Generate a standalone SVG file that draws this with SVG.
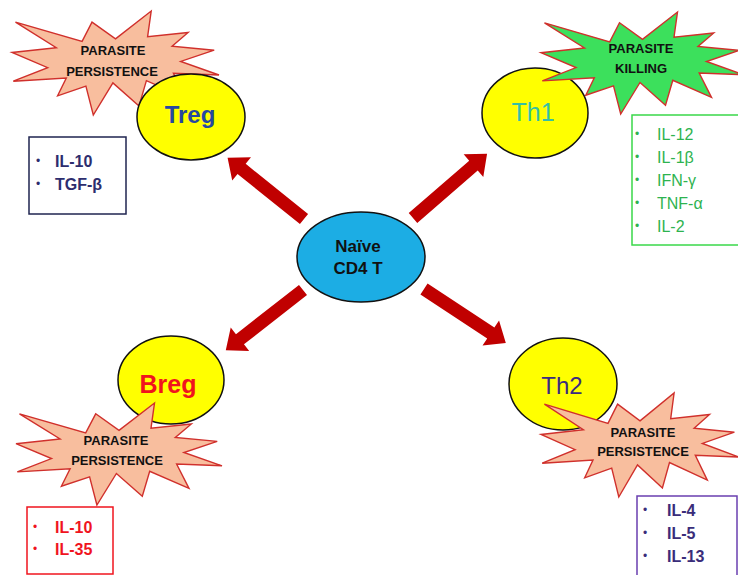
<svg xmlns="http://www.w3.org/2000/svg" xmlns:xlink="http://www.w3.org/1999/xlink" width="738" height="575" viewBox="0 0 738 575">
  <style>
    .star { stroke: #D0302C; stroke-width: 1.4; stroke-linejoin: miter; }
    .peach { fill: #F8BE9E; }
    .green { fill: #3CE05C; }
    .cell { fill: #FFFF00; stroke: #111; stroke-width: 1.5; }
    .st { font-family: "Liberation Sans", Arial, sans-serif; font-weight: bold; font-size: 13px; fill: #111; text-anchor: middle; }
    .lbl { font-family: "Liberation Sans", Arial, sans-serif; text-anchor: middle; }
    .it { font-family: "Liberation Sans", Arial, sans-serif; font-size: 16px; }
    .bul { font-family: "Liberation Sans", Arial, sans-serif; font-size: 12px; }
    .box { fill: #FFFFFF; stroke-width: 1.5; }
    .arrow { fill: #C00000; }
  </style>
  <defs>
    <path id="arr" d="M0 -6.5 L80 -6.5 L80 -15 L98 0 L80 15 L80 6.5 L0 6.5 Z"/>
  </defs>
  <rect width="738" height="575" fill="#FFFFFF"/>

  <g id="connectors">
    <use xlink:href="#arr" class="arrow" transform="translate(304,219) rotate(-141.25)"/>
    <use xlink:href="#arr" class="arrow" transform="translate(413,218) rotate(-40.9)"/>
    <use xlink:href="#arr" class="arrow" transform="translate(303,290) rotate(142)"/>
    <use xlink:href="#arr" class="arrow" transform="translate(424,289) rotate(33.4)"/>
  </g>

  <g id="naive">
    <ellipse cx="361" cy="257" rx="64" ry="45" fill="#1CADE4" stroke="#111" stroke-width="1.5"/>
    <text class="lbl" x="358" y="252" font-size="17" font-weight="bold" fill="#111">Naïve</text>
    <text class="lbl" x="358" y="274" font-size="17" font-weight="bold" fill="#111">CD4 T</text>
  </g>

  <g id="treg">
    <g id="treg-burst">
      <polygon class="star peach" points="115.5,38.9 151.2,11 147.6,36.6 188.1,32.5 172.1,46.2 214.2,50.2 180.7,61.4 219,75 173.4,73.3 185.9,98.1 146.4,80.6 139,106 112.9,82.9 93.3,115 85.9,86.2 57.6,95.8 66.3,78.1 13.3,81.2 47.7,67.7 12,52.5 56.3,47.7 15.5,22.1 82.1,41.4 92,22.1"/>
      <text class="st" x="113" y="55">PARASITE</text>
      <text class="st" x="112" y="76">PERSISTENCE</text>
    </g>
    <ellipse class="cell" cx="191" cy="117" rx="54" ry="43"/>
    <text class="lbl" x="190" y="123" font-size="24" font-weight="bold" fill="#2748A0">Treg</text>
  </g>
  <g id="treg-cytokines">
    <rect class="box" x="29" y="137" width="97" height="77" stroke="#1F2550"/>
    <text class="bul" x="36" y="165" fill="#2D2D6E">•</text>
    <text class="bul" x="36" y="188" fill="#2D2D6E">•</text>
    <text class="it" x="55" y="167" font-weight="bold" font-size="15" fill="#2D2D6E">IL-10</text>
    <text class="it" x="55" y="190" font-weight="bold" font-size="15" fill="#2D2D6E">TGF-β</text>
  </g>

  <g id="th1">
    <ellipse class="cell" cx="535" cy="113" rx="53" ry="45"/>
    <text class="lbl" x="533" y="121" font-size="25" fill="#33BFA6">Th1</text>
    <g id="th1-burst">
      <polygon class="star green" points="642.5,39.4 677.5,12 674,37.1 713.7,33 698,46.5 739.3,50.4 706.5,61.5 744,74.8 699.2,73.1 711.5,97.4 672.8,80.3 665.5,105.2 640,82.5 620.7,114 613.5,85.8 585.8,95.2 594.3,77.8 542.3,80.9 576,67.6 541,52.7 584.5,48 544.5,22.8 609.7,41.8 619.5,22.8"/>
      <text class="st" x="641" y="53">PARASITE</text>
      <text class="st" x="641" y="73">KILLING</text>
    </g>
  </g>
  <g id="th1-cytokines">
    <rect class="box" x="632" y="115" width="110" height="130" stroke="#3AD84A"/>
    <text class="bul" x="635" y="138" fill="#2EB34F">•</text>
    <text class="bul" x="635" y="161" fill="#2EB34F">•</text>
    <text class="bul" x="635" y="184" fill="#2EB34F">•</text>
    <text class="bul" x="635" y="207" fill="#2EB34F">•</text>
    <text class="bul" x="635" y="230" fill="#2EB34F">•</text>
    <text class="it" x="657" y="140" fill="#2EB34F">IL-12</text>
    <text class="it" x="657" y="163" fill="#2EB34F">IL-1β</text>
    <text class="it" x="657" y="186" fill="#2EB34F">IFN-γ</text>
    <text class="it" x="657" y="209" fill="#2EB34F">TNF-α</text>
    <text class="it" x="657" y="232" fill="#2EB34F">IL-2</text>
  </g>

  <g id="breg">
    <ellipse class="cell" cx="171" cy="380" rx="53" ry="44"/>
    <text class="lbl" x="168" y="393" font-size="25" font-weight="bold" fill="#F0141E">Breg</text>
    <g id="breg-burst">
      <polygon class="star peach" points="119,430.4 154.5,403 151,428.1 191.3,424 175.3,437.5 217.2,441.4 183.9,452.5 222,465.8 176.6,464.1 189,488.4 149.7,471.3 142.3,496.2 116.4,473.5 96.9,505 89.6,476.8 61.4,486.2 70.1,468.8 17.3,471.9 51.5,458.6 16,443.7 60.1,439 19.5,413.8 85.7,432.8 95.7,413.8"/>
      <text class="st" x="116" y="445">PARASITE</text>
      <text class="st" x="117" y="465">PERSISTENCE</text>
    </g>
  </g>
  <g id="breg-cytokines">
    <rect class="box" x="27" y="507" width="86" height="67" stroke="#F0141E"/>
    <text class="bul" x="33" y="531" fill="#F0141E">•</text>
    <text class="bul" x="33" y="553" fill="#F0141E">•</text>
    <text class="it" x="55" y="533" font-weight="bold" fill="#F0141E">IL-10</text>
    <text class="it" x="55" y="555" font-weight="bold" fill="#F0141E">IL-35</text>
  </g>

  <g id="th2">
    <ellipse class="cell" cx="563" cy="384" rx="54" ry="46"/>
    <text class="lbl" x="562" y="394" font-size="24" fill="#3B2A80">Th2</text>
    <g id="th2-burst">
      <polygon class="star peach" points="640,420.9 674.1,393 670.7,418.6 709.5,414.5 694.1,428.2 734.4,432.2 702.4,443.4 739,457 695.3,455.3 707.3,480.1 669.5,462.6 662.4,488 637.5,464.9 618.8,497 611.7,468.2 584.7,477.8 593,460.1 542.2,463.2 575.1,449.7 541,434.5 583.4,429.7 544.4,404.1 608,423.4 617.6,404.1"/>
      <text class="st" x="643" y="437">PARASITE</text>
      <text class="st" x="643" y="456">PERSISTENCE</text>
    </g>
  </g>
  <g id="th2-cytokines">
    <rect class="box" x="637" y="496" width="100" height="84" stroke="#6A3FB0"/>
    <text class="bul" x="643" y="514" fill="#3A2D7A">•</text>
    <text class="bul" x="643" y="537" fill="#3A2D7A">•</text>
    <text class="bul" x="643" y="560" fill="#3A2D7A">•</text>
    <text class="it" x="667" y="516" font-weight="bold" fill="#3A2D7A">IL-4</text>
    <text class="it" x="667" y="539" font-weight="bold" fill="#3A2D7A">IL-5</text>
    <text class="it" x="667" y="562" font-weight="bold" fill="#3A2D7A">IL-13</text>
  </g>
</svg>
